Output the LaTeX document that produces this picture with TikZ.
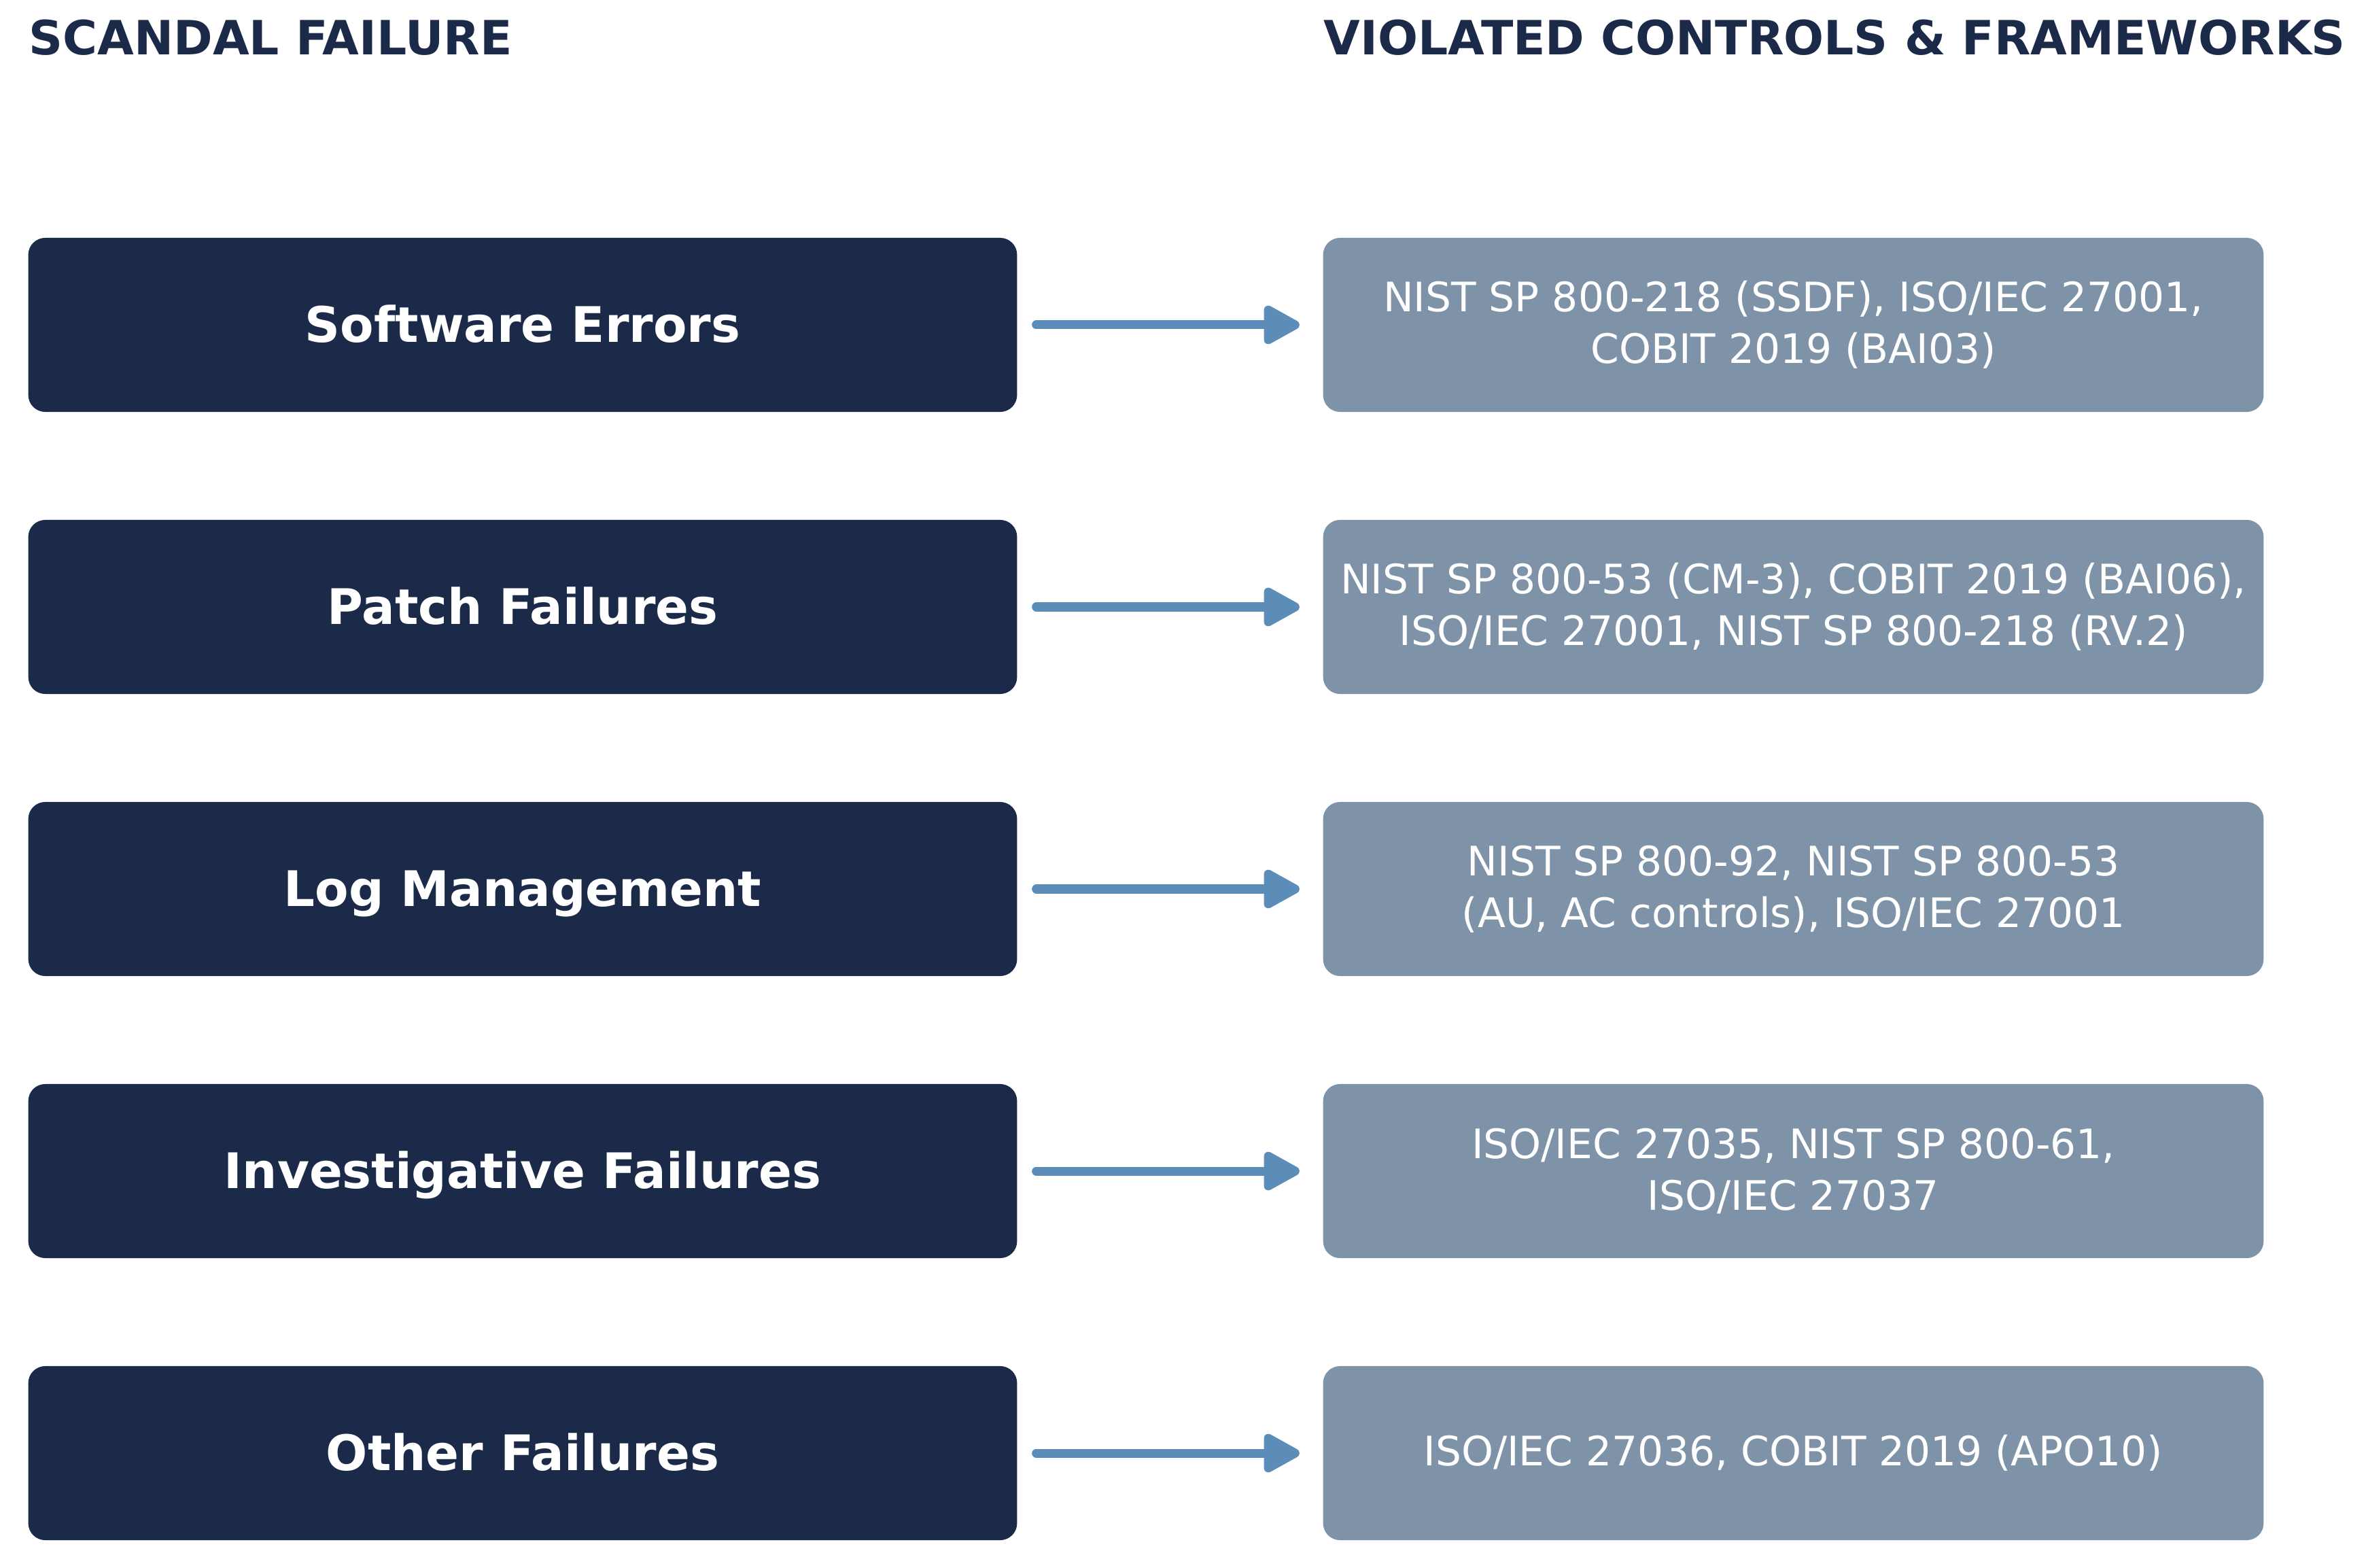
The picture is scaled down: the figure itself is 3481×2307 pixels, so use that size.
\documentclass[tikz,border=0pt]{standalone}
\usepackage{fontspec}
\setmainfont{DejaVu Sans}
\usetikzlibrary{arrows.meta}
\definecolor{navy}{HTML}{1C2A4A}
\definecolor{slate}{HTML}{7F93A8}
\definecolor{steel}{HTML}{5B8DB8}
\begin{document}
\begin{tikzpicture}[x=0.01cm, y=-0.01cm,
  failure/.style={fill=navy, rounded corners=0.25cm, minimum width=14.54cm, minimum height=2.56cm, text=white, text height=17.5pt, text depth=3pt, font=\bfseries\fontsize{20.5}{24}\selectfont},
  control/.style={fill=slate, rounded corners=0.25cm, minimum width=13.83cm, minimum height=2.56cm, text=white, align=center, font=\fontsize{17}{21.5}\selectfont},
  header/.style={anchor=base west, inner sep=0pt, text=navy, font=\bfseries\fontsize{19.75}{24}\selectfont},
  link/.style={-{Triangle[round, length=0.6cm, width=0.62cm]}, steel, line width=0.13cm, line cap=round, shorten <=0.275cm, shorten >=0.34cm}]
\useasboundingbox (0,0) rectangle (3481,2307);
\node[header] (h1) at (42,81) {SCANDAL FAILURE};
\node[header] (h2) at (1947,81) {VIOLATED CONTROLS \& FRAMEWORKS};

\node[failure] (f1) at (769,478) {Software Errors};
\node[failure] (f2) at (769,893) {Patch Failures};
\node[failure] (f3) at (769,1308) {Log Management};
\node[failure] (f4) at (769,1723) {Investigative Failures};
\node[failure] (f5) at (769,2138) {Other Failures};

\node[control] (c1) at (2638.5,478) {NIST SP 800-218 (SSDF), ISO/IEC 27001,\\COBIT 2019 (BAI03)};
\node[control] (c2) at (2638.5,893) {NIST SP 800-53 (CM-3), COBIT 2019 (BAI06),\\ISO/IEC 27001, NIST SP 800-218 (RV.2)};
\node[control] (c3) at (2638.5,1308) {NIST SP 800-92, NIST SP 800-53\\(AU, AC controls), ISO/IEC 27001};
\node[control] (c4) at (2638.5,1723) {ISO/IEC 27035, NIST SP 800-61,\\ISO/IEC 27037};
\node[control] (c5) at (2638.5,2138) {ISO/IEC 27036, COBIT 2019 (APO10)};

\draw[link] (f1) -- (c1);
\draw[link] (f2) -- (c2);
\draw[link] (f3) -- (c3);
\draw[link] (f4) -- (c4);
\draw[link] (f5) -- (c5);
\end{tikzpicture}
\end{document}
